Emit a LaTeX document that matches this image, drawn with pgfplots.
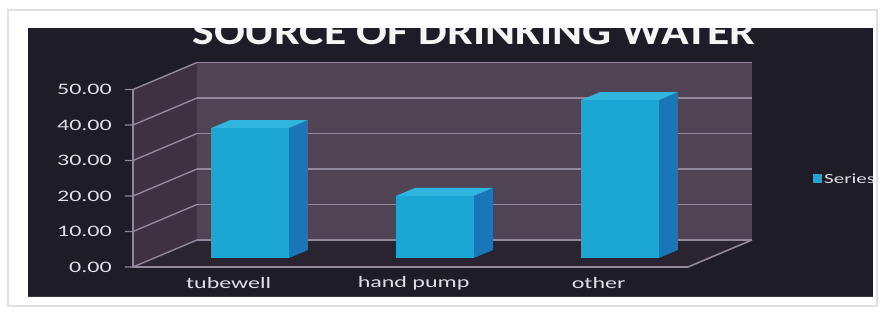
\documentclass[border=0pt]{standalone}
\usepackage{fontspec}
\setmainfont{Carlito}
\usepackage{pgfplots}
\pgfplotsset{compat=1.18}
\definecolor{bg}{RGB}{30,28,38}
\definecolor{wallB}{RGB}{80,68,84}
\definecolor{wallL}{RGB}{62,50,66}
\definecolor{floorC}{RGB}{42,36,48}
\definecolor{gridC}{RGB}{146,136,156}
\definecolor{barF}{RGB}{28,166,212}
\definecolor{barS}{RGB}{26,118,182}
\definecolor{barT}{RGB}{48,182,222}
\definecolor{txt}{RGB}{222,222,232}
\newcommand{\sx}[1]{\scalebox{1.5}[1]{#1}}
\begin{document}
\begin{tikzpicture}
\begin{axis}[
  at={(0,0)}, anchor=south west,
  scale only axis, width=845pt, height=269pt,
  xmin=-1.2, xmax=3.3676, ymin=-10.986, ymax=64.79,
  axis background/.style={fill=bg},
  axis line style={draw=none},
  major tick length=0pt,
  xtick={-0.1155,0.8845,1.8845},
  xticklabels={\sx{tubewell},\sx{hand pump},\sx{other}},
  xticklabel style={anchor=center, yshift=14pt, font=\fontsize{16}{16}\selectfont, text=txt, inner sep=0pt},
  ytick={-2.54,7.46,17.46,27.46,37.46,47.46},
  yticklabels={\sx{0.00},\sx{10.00},\sx{20.00},\sx{30.00},\sx{40.00},\sx{50.00}},
  yticklabel style={anchor=east, xshift=84pt, font=\fontsize{16}{16}\selectfont, text=txt, inner sep=0pt},
  legend style={at={(0.929,0.4387)}, anchor=west, draw=none, fill=none,
    font=\fontsize{14}{14}\selectfont, text=txt, inner sep=0pt},
  legend cell align=left,
  legend image code/.code={\fill[barF] (0pt,-4.5pt) rectangle (9pt,4.5pt);},
]
% walls and floor
\addplot[forget plot, fill=wallB, draw=none] coordinates {(-0.2865,5.07) (2.7135,5.07) (2.7135,55.07) (-0.2865,55.07)} -- cycle;
\addplot[forget plot, fill=wallL, draw=none] coordinates {(-0.6324,-2.54) (-0.2865,5.07) (-0.2865,55.07) (-0.6324,47.46)} -- cycle;
\addplot[forget plot, fill=floorC, draw=none] coordinates {(-0.6324,-2.54) (2.3675,-2.54) (2.7135,5.07) (-0.2865,5.07)} -- cycle;
% back wall grid lines
\addplot[forget plot, gridC, line width=1.6pt] coordinates {(-0.2865,5.07) (2.7135,5.07)};
\addplot[forget plot, gridC, line width=1.6pt] coordinates {(-0.2865,15.07) (2.7135,15.07)};
\addplot[forget plot, gridC, line width=1.6pt] coordinates {(-0.2865,25.07) (2.7135,25.07)};
\addplot[forget plot, gridC, line width=1.6pt] coordinates {(-0.2865,35.07) (2.7135,35.07)};
\addplot[forget plot, gridC, line width=1.6pt] coordinates {(-0.2865,45.07) (2.7135,45.07)};
\addplot[forget plot, gridC, line width=1.6pt] coordinates {(-0.2865,55.07) (2.7135,55.07)};
% side wall grid lines with ticks
\addplot[forget plot, gridC, line width=1.4pt] coordinates {(-0.6757,-2.54) (-0.6324,-2.54) (-0.2865,5.07)};
\addplot[forget plot, gridC, line width=1.4pt] coordinates {(-0.6757,7.46) (-0.6324,7.46) (-0.2865,15.07)};
\addplot[forget plot, gridC, line width=1.4pt] coordinates {(-0.6757,17.46) (-0.6324,17.46) (-0.2865,25.07)};
\addplot[forget plot, gridC, line width=1.4pt] coordinates {(-0.6757,27.46) (-0.6324,27.46) (-0.2865,35.07)};
\addplot[forget plot, gridC, line width=1.4pt] coordinates {(-0.6757,37.46) (-0.6324,37.46) (-0.2865,45.07)};
\addplot[forget plot, gridC, line width=1.4pt] coordinates {(-0.6757,47.46) (-0.6324,47.46) (-0.2865,55.07)};
% front axis and floor edges
\addplot[forget plot, gridC, line width=1.6pt] coordinates {(-0.6324,47.46) (-0.6324,-2.54) (2.3675,-2.54) (2.7135,5.07)};
% bars: side faces
\addplot[forget plot, fill=barS, draw=none] coordinates {(0.21,0) (0.313,2.25) (0.313,38.85) (0.21,36.6)} -- cycle;
\addplot[forget plot, fill=barS, draw=none] coordinates {(1.21,0) (1.313,2.25) (1.313,19.75) (1.21,17.5)} -- cycle;
\addplot[forget plot, fill=barS, draw=none] coordinates {(2.21,0) (2.313,2.25) (2.313,46.75) (2.21,44.5)} -- cycle;
% bars: top faces
\addplot[forget plot, fill=barT, draw=none] coordinates {(-0.21,36.6) (0.21,36.6) (0.313,38.85) (-0.107,38.85)} -- cycle;
\addplot[forget plot, fill=barT, draw=none] coordinates {(0.79,17.5) (1.21,17.5) (1.313,19.75) (0.893,19.75)} -- cycle;
\addplot[forget plot, fill=barT, draw=none] coordinates {(1.79,44.5) (2.21,44.5) (2.313,46.75) (1.893,46.75)} -- cycle;
% bars: front faces
\addplot[ybar, bar width=0.42, bar shift=0pt, fill=barF, draw=none] coordinates {(0,36.6) (1,17.5) (2,44.5)};
\addlegendentry{\sx{Series1}}
\end{axis}
% title (cropped by the frame)
\node[anchor=base, text=white!92!gray, font=\fontsize{38}{38}\selectfont\bfseries] at (446pt,252pt) {\scalebox{1.2}[1]{SOURCE OF DRINKING WATER}};
% white photo frame
\fill[white, even odd rule] (-28pt,-15pt) rectangle (855pt,297pt) (0pt,0pt) rectangle (845pt,269pt);
\draw[black!12, line width=1.2pt] (-20pt,-9pt) rectangle (849pt,287pt);
\pgfresetboundingbox
\path[use as bounding box] (-28pt,-15pt) rectangle (855pt,297pt);
\end{tikzpicture}
\end{document}
